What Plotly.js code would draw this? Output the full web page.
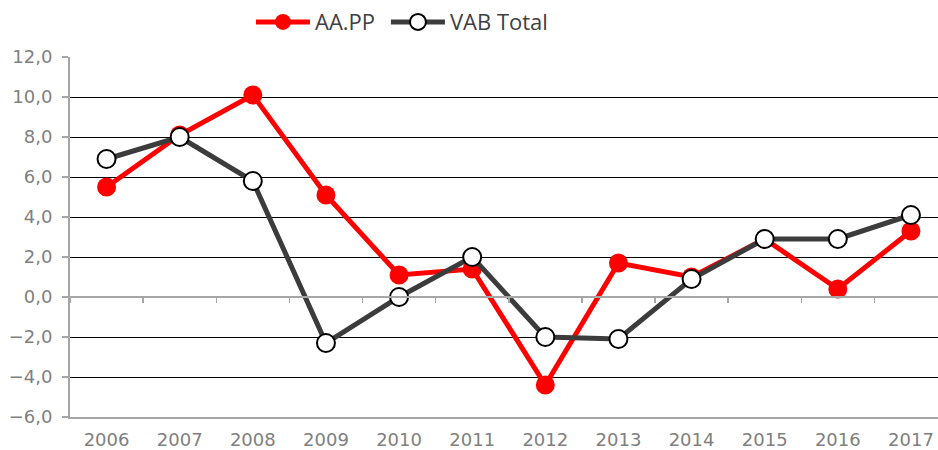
<!DOCTYPE html>
<html>
<head>
<meta charset="utf-8">
<script src="https://cdn.plot.ly/plotly-3.0.1.min.js"></script>
<style>
  body { margin: 0; background: #fff; }
  #chart { width: 938px; height: 450px; }
</style>
</head>
<body>
<div id="chart"></div>
<script>
// years on the category axis
var years = ['2006', '2007', '2008', '2009', '2010', '2011',
             '2012', '2013', '2014', '2015', '2016', '2017'];

// growth rates
var aapp = [5.5, 8.1, 10.1, 5.1, 1.1, 1.4, -4.4, 1.7, 1.0, 2.9, 0.4, 3.3];
var vab  = [6.9, 8.0, 5.8, -2.3, 0.0, 2.0, -2.0, -2.1, 0.9, 2.9, 2.9, 4.1];

var yTicks = [-6, -4, -2, 0, 2, 4, 6, 8, 10, 12];
var gridTicks = [-4, -2, 2, 4, 6, 8, 10];

var grey = '#a6a6a6';
var labelFont = { family: 'DejaVu Sans, sans-serif', size: 18, color: '#808080' };
var legendFont = { family: 'Open Sans, sans-serif', size: 22, color: '#404040' };
var xRange = [-0.5, 11.37];

var trace_aapp = {
  x: years,
  y: aapp,
  name: 'AA.PP',
  type: 'scatter',
  mode: 'lines+markers',
  line: { color: '#ff0000', width: 5 },
  marker: { color: '#ff0000', size: 19 },
  cliponaxis: false,
  legend: 'legend'
};

var trace_vab = {
  x: years,
  y: vab,
  name: 'VAB Total',
  type: 'scatter',
  mode: 'lines+markers',
  line: { color: '#3c3c3c', width: 5 },
  marker: { color: '#ffffff', size: 18, line: { color: '#000000', width: 2 } },
  cliponaxis: false,
  legend: 'legend2'
};

// invisible copy so the label axis and grid axis get drawn
var trace_axes = {
  x: years,
  y: vab,
  xaxis: 'x2',
  yaxis: 'y2',
  type: 'scatter',
  mode: 'lines',
  opacity: 0,
  showlegend: false,
  hoverinfo: 'skip'
};

var layout = {
  width: 938,
  height: 450,
  paper_bgcolor: '#ffffff',
  plot_bgcolor: '#ffffff',
  separators: ',.',
  margin: { l: 70, r: 0, t: 57, b: 33 },
  showlegend: true,
  legend: {
    orientation: 'h',
    x: 0.2085,
    xanchor: 'left',
    y: 1.097,
    yanchor: 'middle',
    font: legendFont,
    itemwidth: 54
  },
  legend2: {
    orientation: 'h',
    x: 0.364,
    xanchor: 'left',
    y: 1.097,
    yanchor: 'middle',
    font: legendFont,
    itemwidth: 54
  },
  // axis crossing at zero, with ticks between the years
  xaxis: {
    type: 'category',
    range: xRange,
    anchor: 'free',
    position: 1 / 3,
    showline: true,
    linecolor: grey,
    linewidth: 2,
    ticks: 'outside',
    tickson: 'boundaries',
    ticklen: 5,
    tickcolor: grey,
    tickwidth: 1.5,
    showticklabels: false,
    showgrid: false,
    zeroline: false
  },
  // bottom axis carrying the year labels
  xaxis2: {
    type: 'category',
    overlaying: 'x',
    anchor: 'y2',
    range: xRange,
    showline: true,
    linecolor: grey,
    linewidth: 2,
    ticks: '',
    showgrid: false,
    zeroline: false,
    tickfont: labelFont,
    ticklabelstandoff: 5
  },
  yaxis: {
    range: [-6, 12],
    tickvals: yTicks,
    tickformat: '.1f',
    showline: true,
    linecolor: grey,
    linewidth: 2,
    ticks: 'outside',
    ticklen: 6,
    tickcolor: grey,
    tickwidth: 1.5,
    showgrid: false,
    zeroline: false,
    tickfont: labelFont,
    ticklabelstandoff: 6
  },
  yaxis2: {
    overlaying: 'y',
    range: [-6, 12],
    tickvals: gridTicks,
    showticklabels: false,
    showline: false,
    showgrid: true,
    gridcolor: '#000000',
    gridwidth: 1,
    zeroline: false
  }
};

Plotly.newPlot('chart', [trace_axes, trace_aapp, trace_vab], layout, { displayModeBar: false, staticPlot: true });
</script>
</body>
</html>
